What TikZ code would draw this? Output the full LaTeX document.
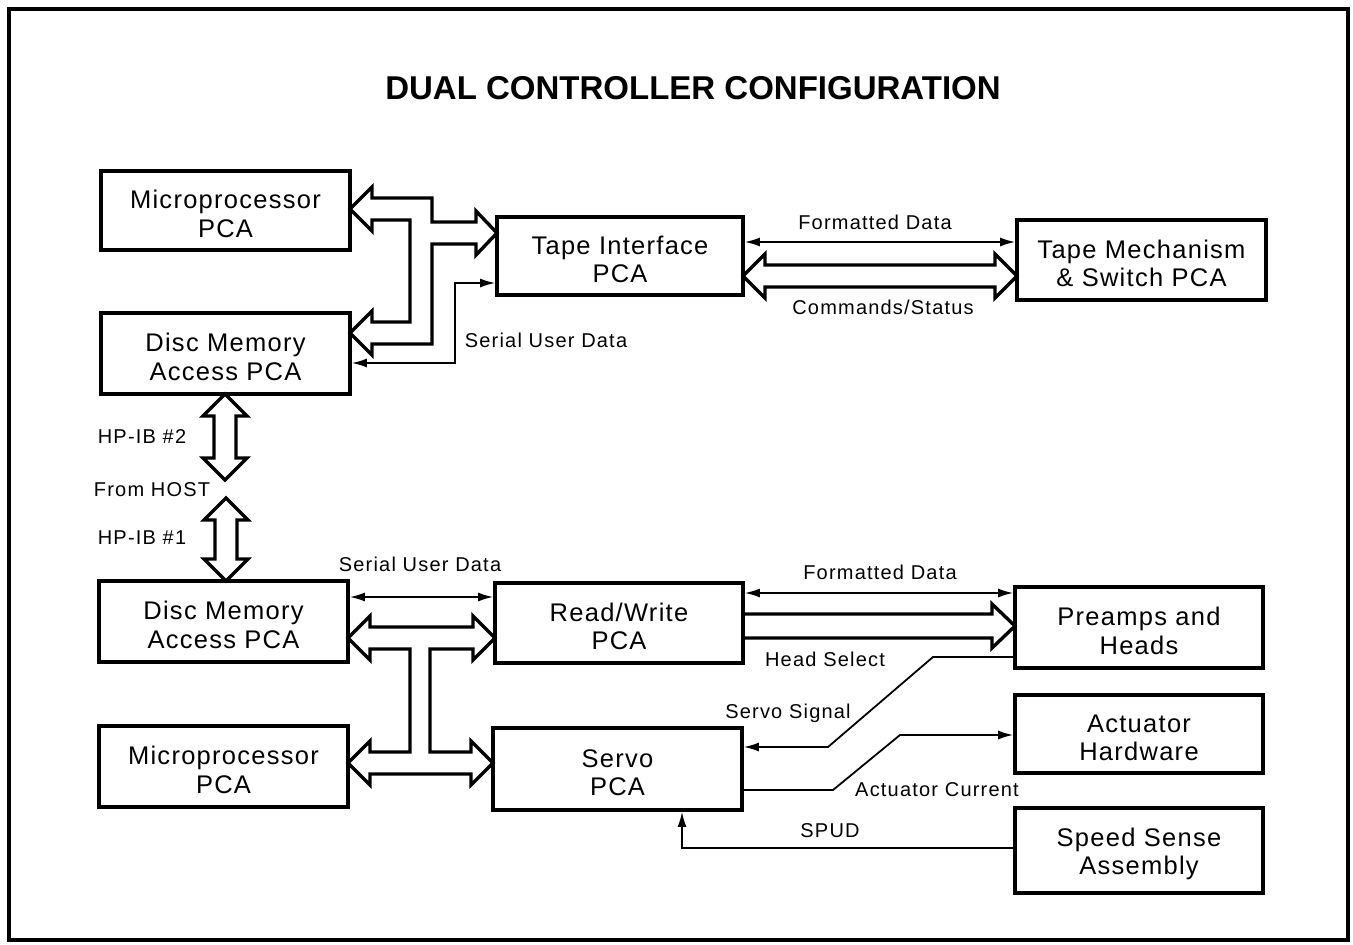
\documentclass[tikz,border=0pt]{standalone}
\usepackage{fontspec}
\setmainfont{Liberation Sans}
\newfontfamily\boxfont[LetterSpace=5]{Liberation Sans}
\newfontfamily\labfont[LetterSpace=6]{Liberation Sans}
\usetikzlibrary{arrows.meta}
\newcommand{\boxstrut}{\rule{0pt}{25pt}}
\begin{document}
\begin{tikzpicture}[x=1pt,y=-1pt,
  >={Latex[length=15pt,width=9pt]},
  box/.style n args={2}{draw,line width=3.6pt,minimum width=#1,minimum height=#2,
    inner sep=0pt,align=center,font=\boxfont\fontsize{25.5}{28.5}\selectfont},
  lab/.style={font=\labfont\fontsize{20}{23}\selectfont,inner sep=0pt},
  bus/.style={draw,line width=3.4pt,line join=miter,fill=white},
  thin/.style={line width=1.8pt},
  frame/.style={draw,line width=4pt}]
\useasboundingbox (0,0) rectangle (1353,945);
\draw[frame] (9,9) rectangle (1348,940);

\node[font=\bfseries\fontsize{33}{40}\selectfont] (title) at (693,88) {DUAL CONTROLLER CONFIGURATION};

% boxes
\node[box={249pt}{79pt}] (micA) at (225.5,210.5) {\boxstrut Microprocessor\\PCA};
\node[box={249pt}{81pt}] (discA) at (225.5,353.5) {\boxstrut Disc Memory\\Access PCA};
\node[box={246pt}{78pt}] (tapeIF) at (620,256) {\boxstrut Tape Interface\\PCA};
\node[box={249pt}{80pt}] (tapeMech) at (1141.5,260) {\boxstrut Tape Mechanism\\\& Switch PCA};
\node[box={249pt}{81pt}] (discB) at (223.5,621.5) {\boxstrut Disc Memory\\Access PCA};
\node[box={249pt}{81pt}] (micB) at (223.5,766.5) {\boxstrut Microprocessor\\PCA};
\node[box={248pt}{80pt}] (rw) at (619,623) {\boxstrut Read/Write\\PCA};
\node[box={249pt}{82pt}] (servo) at (617.5,769) {\boxstrut Servo\\PCA};
\node[box={248pt}{81pt}] (preamp) at (1139,627.5) {\boxstrut Preamps and\\Heads};
\node[box={248pt}{78pt}] (act) at (1139,734) {\boxstrut Actuator\\Hardware};
\node[box={248pt}{85pt}] (speed) at (1139,850.5) {\boxstrut Speed Sense\\Assembly};

% top bus (micA, discA, tapeIF)
\draw[bus] (350,209) -- (372,187) -- (372,198) -- (432,198) -- (432,222) -- (476,222)
  -- (476,211) -- (497,233) -- (476,255) -- (476,244) -- (432,244) -- (432,344)
  -- (372,344) -- (372,355) -- (350,333) -- (372,311) -- (372,322) -- (410,322)
  -- (410,220) -- (372,220) -- (372,231) -- cycle;

% commands/status bus
\draw[bus] (743,276) -- (765,254) -- (765,265) -- (995,265) -- (995,254) -- (1017,276)
  -- (995,298) -- (995,287) -- (765,287) -- (765,298) -- cycle;

% HP-IB buses
\draw[bus] (225,394) -- (247,416) -- (236,416) -- (236,458) -- (247,458) -- (225,480)
  -- (203,458) -- (214,458) -- (214,416) -- (203,416) -- cycle;
\draw[bus] (226,498) -- (248,520) -- (237,520) -- (237,559) -- (248,559) -- (226,581)
  -- (204,559) -- (215,559) -- (215,520) -- (204,520) -- cycle;

% bottom bus (discB, micB, rw, servo)
\draw[bus] (348,638) -- (370,616) -- (370,627) -- (473,627) -- (473,616) -- (495,638)
  -- (473,660) -- (473,649) -- (430,649) -- (430,752) -- (471,752) -- (471,741)
  -- (493,763) -- (471,785) -- (471,774) -- (370,774) -- (370,785) -- (348,763)
  -- (370,741) -- (370,752) -- (410,752) -- (410,649) -- (370,649) -- (370,660) -- cycle;

% preamp bus
\draw[bus,fill=none] (rw.east |- 0,614) -- (992,614) -- (992,604) -- (1015,626)
  -- (992,648) -- (992,638) -- (rw.east |- 0,638);

% thin connectors
\coordinate (sudA) at (455,283);
\draw[thin,<->] (discA.east |- 0,363) -| (sudA) -- (tapeIF.west |- sudA);
\draw[thin,<->] (tapeIF.east |- 0,242) -- (tapeMech.west |- 0,242);
\draw[thin,<->] (discB.east |- 0,597) -- (rw.west |- 0,597);
\draw[thin,<->] (rw.east |- 0,593) -- (preamp.west |- 0,593);
\coordinate (hs1) at (933,657);
\coordinate (hs2) at (828,747);
\draw[thin,->] (preamp.west |- hs1) -- (hs1) -- (hs2) -- (servo.east |- hs2);
\coordinate (ac1) at (833,790);
\coordinate (ac2) at (900,735);
\draw[thin,->] (servo.east |- ac1) -- (ac1) -- (ac2) -- (act.west |- ac2);
\coordinate (sp1) at (682,848);
\draw[thin,->] (speed.west |- sp1) -- (sp1) -- (servo.south -| sp1);

% labels
\node[lab] (lFDa) at (875,222) {Formatted Data};
\node[lab] (lCS) at (883,307) {Commands/Status};
\node[lab] (lSUa) at (546,340) {Serial User Data};
\node[lab] (lHP2) at (142,437) {HP-IB \#2};
\node[lab] (lHost) at (152,490) {From HOST};
\node[lab] (lHP1) at (142,538) {HP-IB \#1};
\node[lab] (lSUb) at (420,564) {Serial User Data};
\node[lab] (lFDb) at (880,572) {Formatted Data};
\node[lab] (lHS) at (825,659) {Head Select};
\node[lab] (lSS) at (788,713) {Servo Signal};
\node[lab] (lAC) at (937,790) {Actuator Current};
\node[lab] (lSP) at (830,831) {SPUD};
\end{tikzpicture}
\end{document}
